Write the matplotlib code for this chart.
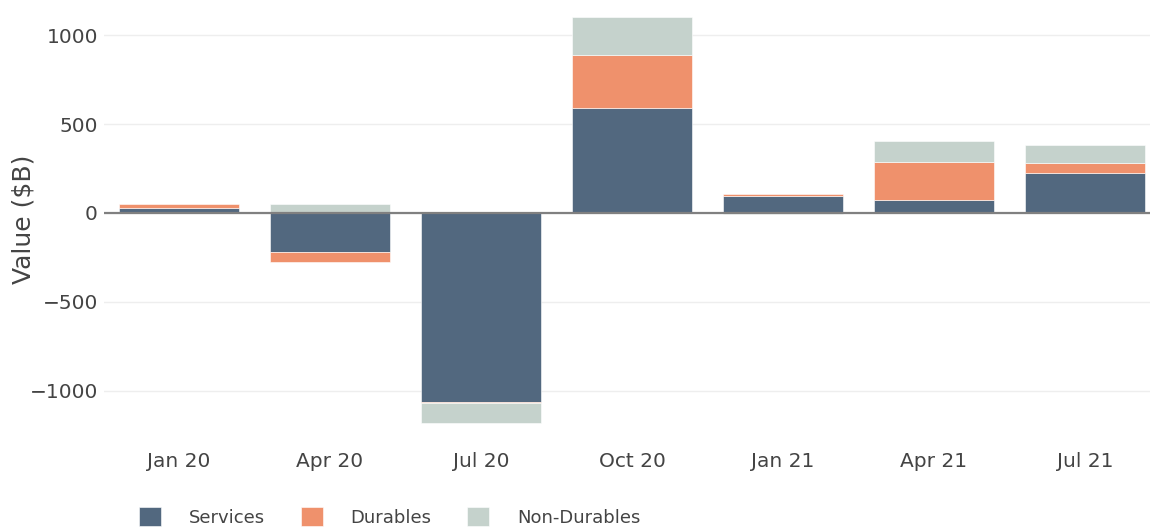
import matplotlib
matplotlib.use("Agg")
import matplotlib.pyplot as plt
import numpy as np

categories = ["Jan 20", "Apr 20", "Jul 20", "Oct 20", "Jan 21", "Apr 21", "Jul 21"]
services = [28, -220, -1062, 591, 97, 75, 227]
durables = [24, -56, -6, 296, 8, 214, 52]
non_durables = [-3, 48, -114, 216, -5, 118, 102]

series_names = ["Services", "Durables", "Non-Durables"]
series_colors = ["#52687F", "#EF916C", "#C5D2CC"]

plt.rcParams['font.family'] = ['DejaVu Sans']

W, H = 1150, 527
fig = plt.figure(figsize=(W / 100, H / 100), dpi=100)
ax = fig.add_axes([103.5 / W, (H - 438) / H, 1057 / W, 438 / H])

x = np.arange(len(categories))
pos_base = np.zeros(len(categories))
neg_base = np.zeros(len(categories))
handles = []
for name, vals, col in zip(series_names, [services, durables, non_durables], series_colors):
    v = np.array(vals, dtype=float)
    bottoms = np.where(v >= 0, pos_base, neg_base)
    h = ax.bar(x, v, width=0.8, bottom=bottoms, color=col, label=name,
               edgecolor="white", linewidth=0.4, zorder=2)
    handles.append(h)
    pos_base = pos_base + np.where(v >= 0, v, 0)
    neg_base = neg_base + np.where(v < 0, v, 0)

ax.set_xlim(-0.5, len(categories) - 0.5)
ax.set_ylim(-1267, 1199)
ax.set_yticks([-1000, -500, 0, 500, 1000])
ax.set_yticklabels(["\u22121000", "\u2212500", "0", "500", "1000"])
ax.set_xticks(x)
ax.set_xticklabels(categories)
ax.tick_params(axis="both", length=0, labelsize=14.5, colors="#444444")
ax.tick_params(axis="y", pad=4)
ax.tick_params(axis="x", pad=10)
ax.grid(axis="y", color="#EEEEEE", linewidth=1, zorder=0)
ax.set_axisbelow(True)
ax.axhline(0, color="#808080", linewidth=1.6, zorder=3)
for s in ax.spines.values():
    s.set_visible(False)
ax.set_ylabel("Value ($B)", fontsize=18, color="#444444")
ax.yaxis.set_label_coords((36 - 103.5) / 1057, 0.5)

fig.legend(handles=handles, labels=series_names, loc="center left",
           bbox_to_anchor=(123 / W, 10 / H), ncol=3, frameon=False,
           fontsize=13, handlelength=1.22, handleheight=1.22,
           handletextpad=1.55, columnspacing=1.95, labelcolor="#444444")

fig.savefig("out.png", dpi=100)
